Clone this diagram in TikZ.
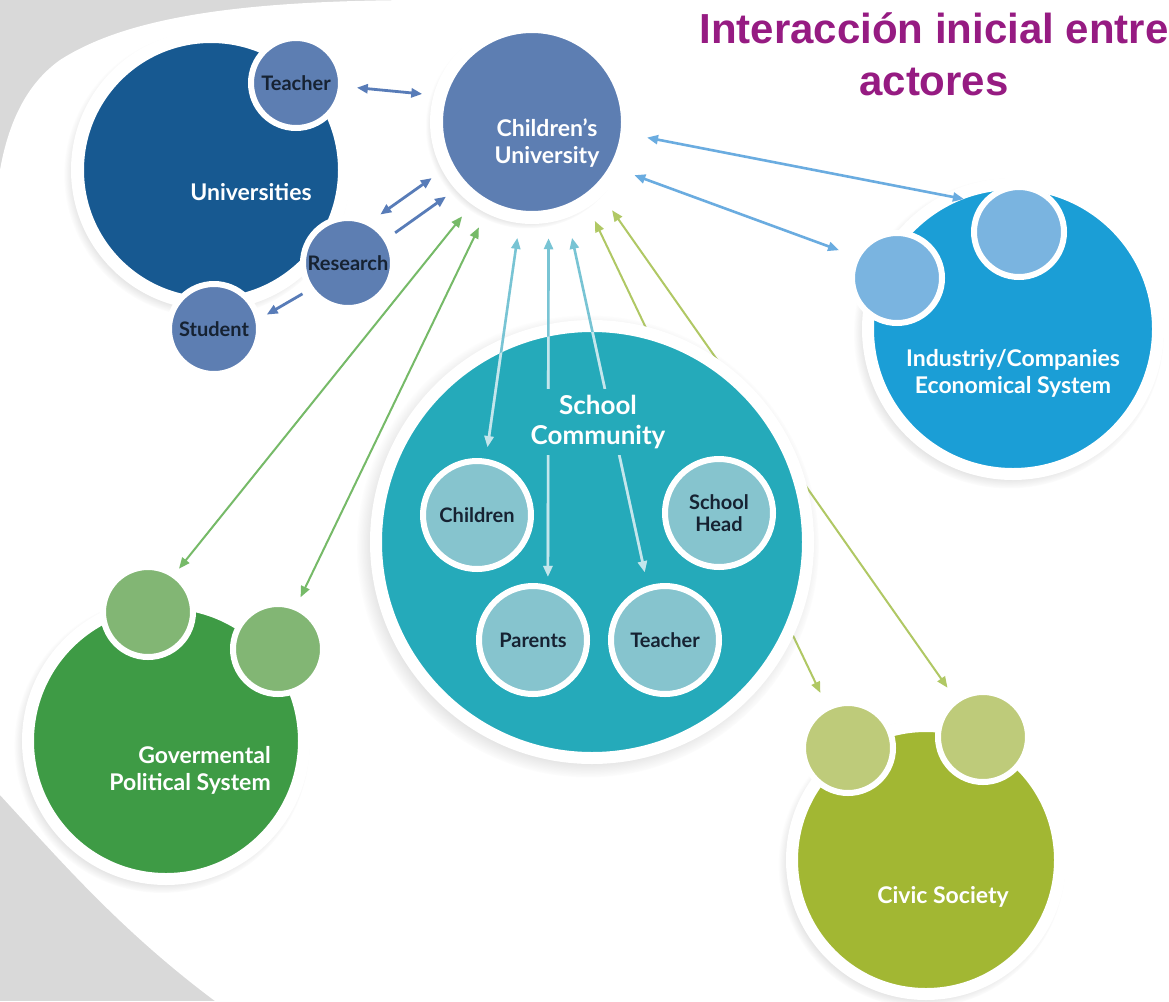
\documentclass[tikz,border=0pt]{standalone}
\usepackage{fontspec}
\setmainfont{Lato}
\newfontfamily\titlefont{Liberation Sans}
\usetikzlibrary{arrows.meta,shadows,fadings}
\definecolor{bggray}{RGB}{217,217,217}
\definecolor{uniblue}{RGB}{23,89,145}
\definecolor{unimid}{RGB}{93,126,178}
\definecolor{uniarrow}{RGB}{88,124,184}
\definecolor{indblue}{RGB}{27,158,214}
\definecolor{indlight}{RGB}{122,180,224}
\definecolor{indarrow}{RGB}{106,172,224}
\definecolor{schteal}{RGB}{37,170,186}
\definecolor{schlight}{RGB}{134,196,206}
\definecolor{scharrow}{RGB}{120,196,212}
\definecolor{schpale}{RGB}{196,230,236}
\definecolor{govgreen}{RGB}{62,155,69}
\definecolor{govlight}{RGB}{130,182,116}
\definecolor{govarrow}{RGB}{118,186,104}
\definecolor{civgreen}{RGB}{162,183,51}
\definecolor{civlight}{RGB}{190,203,122}
\definecolor{civarrow}{RGB}{176,200,100}
\definecolor{labelnavy}{RGB}{22,34,50}
\definecolor{titlepurple}{RGB}{150,27,130}
\tikzset{
  ring/.style={circle, draw=white, outer sep=0pt, inner sep=0pt},
  bigring/.style={ring, line width=13pt,
    circular drop shadow={shadow xshift=-4pt, shadow yshift=-4pt, shadow scale=1.07, opacity=.45}},
  smallring/.style={ring, line width=6pt, minimum size=90pt, smalltxt},
  midring/.style={ring, line width=6pt, minimum size=108pt, smalltxt},
  bigtxt/.style={text=white, font=\bfseries\fontsize{23}{27}\selectfont, align=center, inner sep=0pt},
  smalltxt/.style={text=labelnavy, font=\bfseries\fontsize{20}{22}\selectfont, align=center},
  sctxt/.style={text=white, font=\bfseries\fontsize{26}{30}\selectfont, align=center},
  titletxt/.style={text=titlepurple, font=\titlefont\bfseries\fontsize{42}{50}\selectfont, inner sep=0pt},
  unilink/.style={color=uniarrow, line width=2.8pt},
  indlink/.style={color=indarrow, line width=2.6pt},
  govlink/.style={color=govarrow, line width=2pt},
  civlink/.style={color=civarrow, line width=2pt},
  schlink/.style={color=scharrow, line width=2.6pt},
}
\begin{document}
\begin{tikzpicture}[x=1pt, y=-1pt, >={Triangle[length=11pt,width=9pt]}]
\useasboundingbox (0,0) rectangle (1169,1001);
% Background
\fill[bggray] (0,0) rectangle (1169,1001);
\fill[white] (430,0) .. controls (250,0) and (130,15) .. (60,60)
  .. controls (25,85) and (8,125) .. (0,170) -- (0,795)
  .. controls (60,860) and (120,930) .. (215,1001) -- (1169,1001) -- (1169,0) -- cycle;

% Children's University
\node[bigring, minimum size=191pt, fill=unimid] (cu) at (532,122) {};
\node[bigtxt] (cutxt) at ([shift={(15,21)}]cu.center) {Children's\\University};

% Universities
\node[bigring, minimum size=267pt, fill=uniblue] (uni) at (211,170) {};
\node[bigtxt] (unitxt) at ([shift={(40,22)}]uni.center) {Universities};
\node[smallring, fill=unimid] (uteach) at (296,83) {Teacher};
\node[smallring, fill=unimid] (ures) at (348,263) {Research};
\node[smallring, fill=unimid] (ustud) at (214,329) {Student};

% Industry
\node[bigring, minimum size=290pt, line width=12pt, fill=indblue] (ind) at (1013,329) {};
\node[smallring, fill=indlight] (inda) at (897,278) {};
\node[smallring, fill=indlight] (indb) at (1019,232) {};
\node[bigtxt] (indtxt) at ([shift={(0,44)}]ind.center) {Industriy/Companies\\Economical System};

% Governmental
\node[bigring, minimum size=276pt, line width=12pt, fill=govgreen] (gov) at (166,741) {};
\node[smallring, fill=govlight] (gova) at (148,612) {};
\node[smallring, fill=govlight] (govb) at (278,649) {};
\node[bigtxt, align=right] (govtxt) at ([shift={(24,29)}]gov.center) {Govermental\\Political System};

% Civic society
\node[bigring, minimum size=268pt, line width=12pt, fill=civgreen] (civ) at (926,860) {};
\node[smallring, fill=civlight] (civa) at (848,748) {};
\node[smallring, fill=civlight] (civb) at (983,737) {};
\node[bigtxt] (civtxt) at ([shift={(17,37)}]civ.center) {Civic Society};

% Links to civic society (behind the school)
\draw[civlink, <->, shorten <=22pt, shorten >=16.7pt] (cu.-56.4) -- (civa.117);
\draw[civlink, <->, shorten <=24pt, shorten >=15.8pt] (cu.-46) -- (civb.126.3);

% School community
\node[bigring, minimum size=432pt, line width=12pt, fill=schteal] (school) at (592,542) {};
\node[midring, fill=schlight] (kids) at (477,515) {Children};
\node[midring, fill=schlight] (parents) at (533,640) {Parents};
\node[midring, fill=schlight] (steach) at (665,640) {Teacher};
\node[midring, fill=schlight] (shead) at (719,513) {School\\Head};

% University links
\draw[unilink, <->, shorten <=16pt, shorten >=18pt] (uteach.-4) -- (cu.164);
\draw[unilink, <->, shorten <=14.5pt, shorten >=19.5pt] (ures.63) -- (cu.-152.5);
\draw[unilink, ->, shorten <=11pt, shorten >=18.5pt] (ures.32.5) -- (cu.-138);
\draw[unilink, ->, shorten <=10pt, shorten >=10pt] (ures.-145) -- (ustud.12.5);

% Government links
\draw[govlink, <->, shorten <=22pt, shorten >=8.3pt] (cu.-126) -- (gova.55.7);
\draw[govlink, <->, shorten <=22.5pt, shorten >=11.5pt] (cu.-117.2) -- (govb.67);

% Industry links
\draw[indlink, <->, shorten <=20.6pt, shorten >=21pt] (cu.-7.9) -- (indb.140.5);
\draw[indlink, <->, shorten <=20pt, shorten >=19.4pt] (cu.-29) -- (inda.152.2);

% School links
\foreach \a/\n/\b/\s/\t in {-97/kids/81.6/21.3pt/14.7pt, -80.2/parents/74.9/22.2pt/11.3pt, -69.5/steach/108.9/27.3pt/16.8pt}
  \draw[schlink, <->, shorten <=\s, shorten >=\t] (cu.\a) -- (\n.\b);
\begin{scope}
  \clip (school.center) circle (210);
  \foreach \a/\n/\b/\s/\t in {-97/kids/81.6/21.3pt/14.7pt, -80.2/parents/74.9/22.2pt/11.3pt, -69.5/steach/108.9/27.3pt/16.8pt}
    \draw[schlink, color=schpale, <->, shorten <=\s, shorten >=\t] (cu.\a) -- (\n.\b);
\end{scope}
\node[sctxt, fill=schteal, inner xsep=3pt, inner ysep=6pt] (sclab) at ([shift={(6,-120)}]school.center) {School\\Community};

% Title
\node[titletxt, anchor=base] (title1) at (934,43) {Interacción inicial entre};
\node[titletxt, anchor=base] (title2) at (934,95) {actores};
\end{tikzpicture}
\end{document}
